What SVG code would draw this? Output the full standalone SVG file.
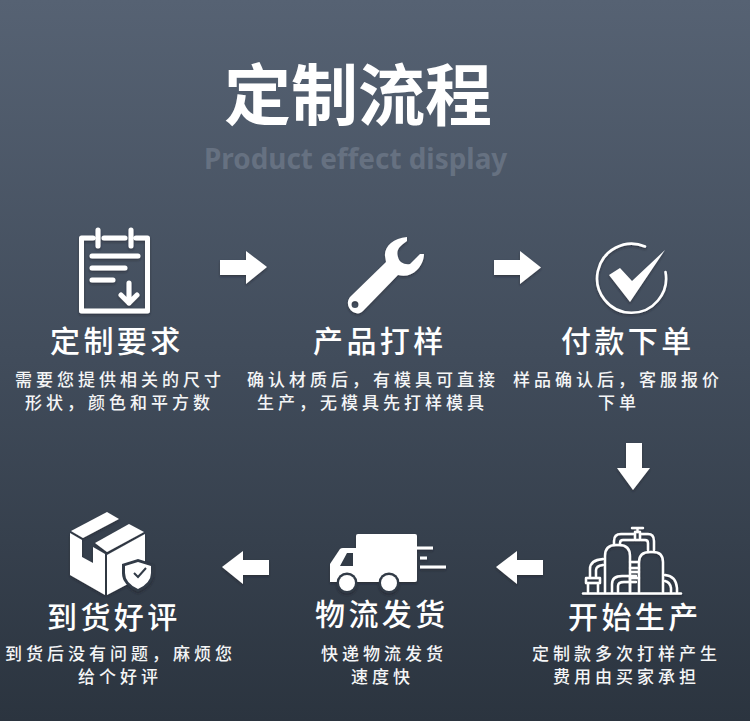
<svg xmlns="http://www.w3.org/2000/svg" width="750" height="721" viewBox="0 0 750 721">
<style>
.t{font-family:"Noto Sans CJK SC",sans-serif;fill:#fff}
.h{font-size:30px;font-weight:500;letter-spacing:3.400px}
.d{font-size:17px;font-weight:500;letter-spacing:4px;fill:#f4f5f6}
.w{fill:#fff}
.s{fill:none;stroke:#fff;stroke-width:5;stroke-linecap:round;stroke-linejoin:round}
.p{fill:none;stroke:#fff;stroke-width:2.400;stroke-linecap:round;stroke-linejoin:round}
</style>
<defs>
<linearGradient id="bg" x1="0" y1="0" x2="0" y2="1">
<stop offset="0" stop-color="#566273"/><stop offset=".5" stop-color="#414c5b"/><stop offset="1" stop-color="#2b343f"/>
</linearGradient>
<filter id="sh" x="-20%" y="-20%" width="140%" height="140%"><feDropShadow dx="0" dy="1.500" stdDeviation="1.200" flood-color="#1d232b" flood-opacity=".55"/></filter>
</defs>
<rect width="750" height="721" fill="url(#bg)"/>
<g id="title">
<text class="t" x="224" y="120" font-size="67" font-weight="700">定制流程</text>
<text x="204" y="169" font-family="'Noto Sans',sans-serif" font-size="27.900" font-weight="700" fill="#667181">Product effect display</text>
</g>
<g id="connectors" filter="url(#sh)" class="w">
<polygon points="220,260 246,260 246,251 267,267 246,284 246,275 220,275"/>
<polygon points="494,260 520,260 520,251 541,267.500 520,284 520,275 494,275"/>
<polygon points="626,443 642,443 642,468 650,468 633,490 617,468 626,468"/>
<polygon points="543,560 517,560 517,551 496,567 517,584 517,575 543,575"/>
<polygon points="269,560 243,560 243,551 222,567 243,584 243,575 269,575"/>
</g>
<g id="node-requirements">
<g filter="url(#sh)">
<path class="s" d="M93 238H81.500V311H147.500V238H136M104 238H125M98 230V246M131 230V246M92 256H138M92 268H125M92 280H113M129 283V303M121 295L129 303L137 295"/>
</g>
<text class="t h" x="50" y="352">定制要求</text>
<text class="t d" x="15" y="386">需要您提供相关的尺寸</text>
<text class="t d" x="25" y="409">形状，颜色和平方数</text>
</g>
<g id="node-sample">
<path class="w" filter="url(#sh)" fill-rule="evenodd" d="M407 237C393 238 384 247 385 256L386 262L350 297C346 302 348 309 353 312C357 314 360 314 363 311L398 275C405 277 412 275 417 270C421 266 424 260 424 254L420 254L410 264C404 265 399 262 398 257C396 251 399 247 403 244L407 241ZM355 301A3.500 3.500 0 1 0 355 308A3.500 3.500 0 1 0 355 301Z"/>
<text class="t h" x="313" y="352">产品打样</text>
<text class="t d" x="247" y="386">确认材质后，有模具可直接</text>
<text class="t d" x="257" y="409">生产，无模具先打样模具</text>
</g>
<g id="node-payment">
<g filter="url(#sh)">
<path d="M645 246.500A34.500 34.500 0 1 0 665.500 272" fill="none" stroke="#fff" stroke-width="2.600" stroke-linecap="round"/>
<polygon class="w" points="609,275 620,268 632,281 665,250 630,302"/>
</g>
<text class="t h" x="561" y="352">付款下单</text>
<text class="t d" x="513" y="386">样品确认后，客服报价</text>
<text class="t d" x="598" y="409">下单</text>
</g>
<g id="node-production">
<g filter="url(#sh)">
<path class="p" d="M583 593.500H681"/>
<path class="p" d="M605 592V556Q605 545 616 545H619Q630 545 630 556V592M639 592V562Q639 552 650 552H653Q663 552 663 562V592"/>
<path class="p" d="M614 544V541Q614 534 621 534H634M641 534H648Q654 534 654 541V550M620 544V543Q620 540 623 540H634M641 540H645Q648 540 648 543V550"/>
<path class="p" d="M632 528H643M637.500 528V532M635 532H640V540H635Z"/>
<path class="p" d="M630 562H639M630 568H639M630 572H639M630 578H639"/>
<path class="p" d="M590 577V569Q590 560 603 559M596 577V570Q596 566 603 565"/>
<path class="p" d="M586 578H600V583H586ZM588 583V592M598 583V592"/>
<path class="p" d="M612 592V584Q612 576 622 576H636M618 592V586Q618 582 624 582H636M630 576V592"/>
<path class="p" d="M665 575Q676 576 677 588V592M665 581Q670 582 671 588V592"/>
</g>
<text class="t h" x="568" y="628">开始生产</text>
<text class="t d" x="532" y="660">定制款多次打样产生</text>
<text class="t d" x="553" y="683">费用由买家承担</text>
</g>
<g id="node-shipping">
<g filter="url(#sh)">
<rect class="w" x="356" y="534" width="61" height="48" rx="2"/>
<path class="w" d="M330 582V564L340 549Q341 548 343 548H358V582Z"/>
<polygon points="340,566 347,553 353,553 353,566" fill="#303a46"/>
<circle cx="347" cy="583" r="10.500" fill="#303a46"/><circle cx="347" cy="583" r="8" fill="#fff"/>
<circle cx="389" cy="583" r="10.500" fill="#303a46"/><circle cx="389" cy="583" r="8" fill="#fff"/>
<path d="M417 548H433M420 558H427M420 567H446" stroke="#fff" stroke-width="2.800" fill="none"/>
</g>
<text class="t h" x="315" y="625">物流发货</text>
<text class="t d" x="321" y="660">快递物流发货</text>
<text class="t d" x="351" y="683">速度快</text>
</g>
<g id="node-review">
<g filter="url(#sh)">
<polygon class="w" points="70,533 82,540 82,557 93,563 93,547 105,554 105,595 70,575"/>
<polygon class="w" points="71,531 107,512 119,519 83,538"/>
<polygon class="w" points="95,543 129,524 144,532 107,552"/>
<polygon class="w" points="107,555 145,534 145,575 107,595"/>
<path d="M138 559L154 564V573Q154 585 138 592Q122 585 122 573V564Z" fill="#303a46"/>
<path class="w" d="M138 562L151 566V573Q151 583 138 589Q125 583 125 573V566Z"/>
<path d="M134 573L138 577L146 568" fill="none" stroke="#303a46" stroke-width="2"/>
</g>
<text class="t h" x="47" y="628">到货好评</text>
<text class="t d" x="5" y="660">到货后没有问题，麻烦您</text>
<text class="t d" x="78" y="683">给个好评</text>
</g>
</svg>
